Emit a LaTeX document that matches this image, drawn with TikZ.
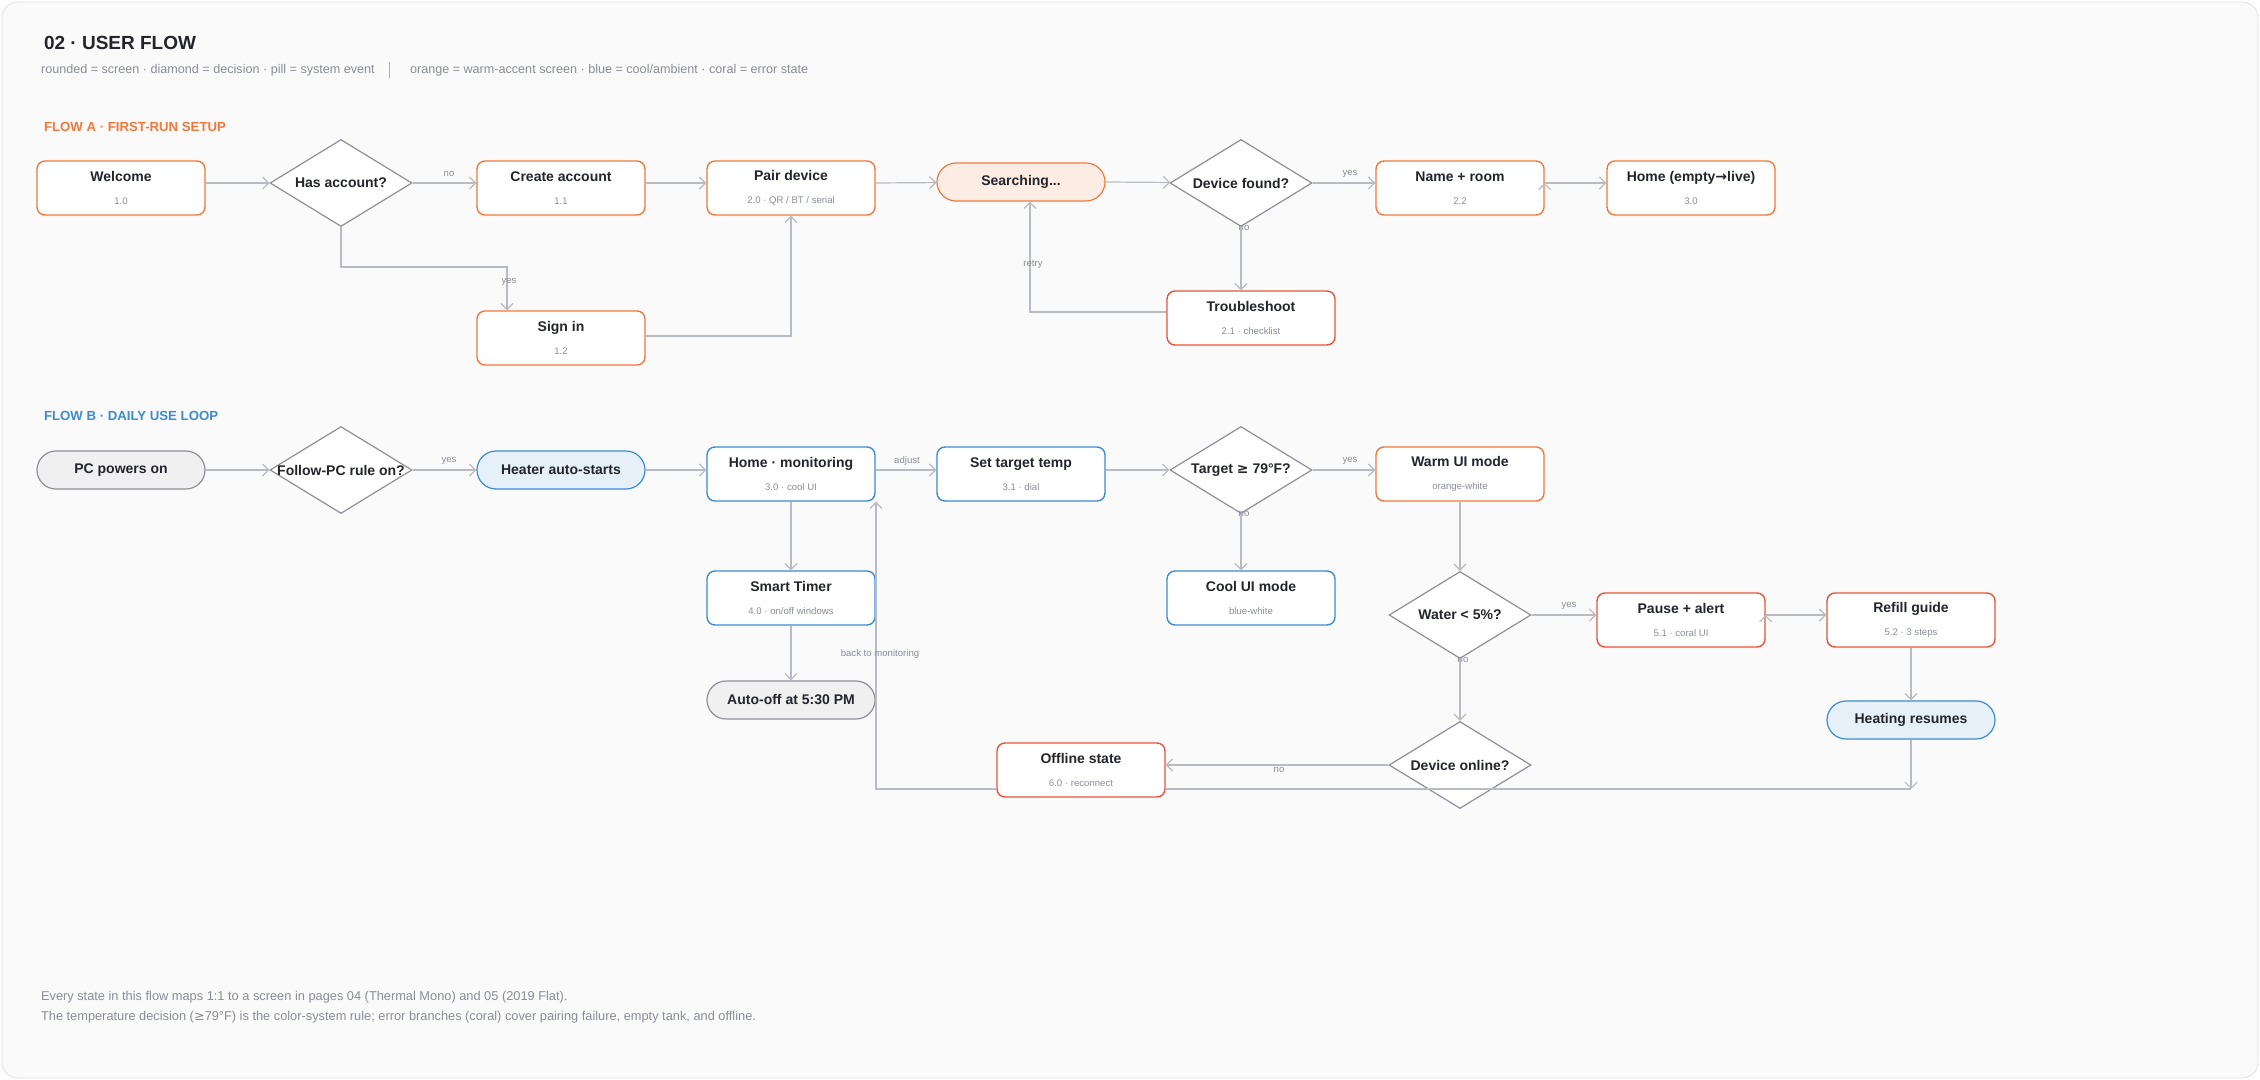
\documentclass[tikz,border=0pt]{standalone}
\usepackage{fontspec}
\setmainfont{Liberation Sans}
\newfontfamily\sym{DejaVu Sans}
\usetikzlibrary{shapes.geometric,arrows.meta}
\definecolor{warm}{HTML}{F07A3C}
\definecolor{coral}{HTML}{E5533D}
\definecolor{cool}{HTML}{3C8CD0}
\definecolor{dia}{HTML}{8E9099}
\definecolor{wire}{HTML}{B9BBC3}
\definecolor{note}{HTML}{8A8D96}
\definecolor{ink}{HTML}{23252B}
\newcommand{\ttl}{\fontsize{7}{8}\selectfont\bfseries\color{ink}}
\newcommand{\sbt}{\fontsize{4.8}{6}\selectfont\color{note}}
\newcommand{\scr}[2]{{\ttl #1}\\[-0.5pt]{\sbt #2}}
\tikzset{
  box/.style={draw=warm,fill=white,rounded corners=4pt,line width=.7pt,minimum width=84pt,minimum height=27pt,align=center,inner sep=1pt},
  pill/.style={draw=dia,fill=gray!12,rounded corners=9.5pt,line width=.6pt,minimum width=84pt,minimum height=19pt,font=\ttl},
  dec/.style={diamond,draw=dia,fill=white,line width=.6pt,minimum width=71pt,minimum height=43.5pt,inner sep=0pt,label={[font=\ttl]center:#1}},
  arr/.style={draw=wire,line width=.6pt,-{Straight Barb[length=3pt,width=6pt]}},
  lbl/.style={font=\fontsize{4.8}{6}\selectfont,text=note},
  note/.style={anchor=west,font=\fontsize{#1}{8}\selectfont,text=note},
}
\begin{document}
\begin{tikzpicture}[x=0.5pt,y=-0.5pt]
  \useasboundingbox (0,0) rectangle (2260,1080);
  \draw[draw=gray!25,fill=gray!4,rounded corners=8pt] (2,2) rectangle (2258,1078);

  % header
  \draw (37,43) node[anchor=west,font=\fontsize{9.5}{10}\selectfont\bfseries,text=ink] {02 · USER FLOW};
  \draw (34,70) node[note=6.3] {rounded = screen · diamond = decision · pill = system event};
  \draw[note!70,line width=.4pt] (389,62) -- (389,78);
  \draw (403,70) node[note=6.3] {orange = warm-accent screen · blue = cool/ambient · coral = error state};

  % flow A
  \draw (37,127) node[anchor=west,font=\fontsize{6.6}{7}\selectfont\bfseries,text=warm] {FLOW A · FIRST-RUN SETUP};
  \node (welcome) at (121,188) [box] {\scr{Welcome}{1.0}};
  \node (hasacc) at (341,183) [dec=Has account?] {};
  \node (create) at (561,188) [box] {\scr{Create account}{1.1}};
  \node (pair) at (791,188) [box] {\scr{Pair device}{2.0 · QR / BT / serial}};
  \node (search) at (1021,182) [pill,draw=warm,fill=warm!14] {Searching...};
  \node (found) at (1241,183) [dec=Device found?] {};
  \node (name) at (1460,188) [box] {\scr{Name + room}{2.2}};
  \node (home) at (1691,188) [box] {\scr{Home (empty{\sym →}live)}{3.0}};
  \node (signin) at (561,338) [box] {\scr{Sign in}{1.2}};
  \node (trouble) at (1251,318) [box,draw=coral] {\scr{Troubleshoot}{2.1 · checklist}};
  \coordinate (retry) at (1030,312);

  \path[arr] (welcome.east |- hasacc) edge (hasacc) (hasacc) edge (create.west |- hasacc)
    (create.east |- hasacc) edge (pair.west |- hasacc) (pair.east |- hasacc) edge (search)
    (search.east) edge (found) (found) edge (name.west |- found) (name.east |- found) edge (home.west |- found)
    (found) edge (trouble.north -| found);
  \draw[arr] (hasacc.south) |- (507,267) -- (signin.north -| 507,0);
  \draw[arr] (signin.east |- 0,336) -| (pair.south);
  \draw[arr] (trouble.west |- retry) -- (retry) -- (search.south -| retry);
  \draw (449,174) node[lbl] {no};
  \draw (509,282) node[lbl] {yes};
  \draw (1350,174) node[lbl] {yes};
  \draw (1244,228) node[lbl] {no};
  \draw (1033,264) node[lbl] {retry};

  % flow B
  \draw (37,416) node[anchor=west,font=\fontsize{6.6}{7}\selectfont\bfseries,text=cool] {FLOW B · DAILY USE LOOP};
  \node (pcon) at (121,470) [pill] {PC powers on};
  \node (follow) at (341,470) [dec=Follow-PC rule on?] {};
  \node (autost) at (561,470) [pill,draw=cool,fill=cool!13] {Heater auto-starts};
  \node (monitor) at (791,474) [box,draw=cool] {\scr{Home · monitoring}{3.0 · cool UI}};
  \node (settemp) at (1021,474) [box,draw=cool] {\scr{Set target temp}{3.1 · dial}};
  \node (target) at (1241,470) [dec={Target {\sym ≥} 79°F?}] {};
  \node (warm) at (1460,474) [box] {\scr{Warm UI mode}{orange-white}};
  \node (coolui) at (1251,598) [box,draw=cool] {\scr{Cool UI mode}{blue-white}};
  \node (timer) at (791,598) [box,draw=cool] {\scr{Smart Timer}{4.0 · on/off windows}};
  \node (autooff) at (791,700) [pill] {Auto-off at 5:30 PM};
  \node (water) at (1460,615) [dec={Water < 5\%?}] {};
  \node (pause) at (1681,620) [box,draw=coral] {\scr{Pause + alert}{5.1 · coral UI}};
  \node (refill) at (1911,620) [box,draw=coral] {\scr{Refill guide}{5.2 · 3 steps}};
  \node (resume) at (1911,720) [pill,draw=cool,fill=cool!13] {Heating resumes};
  \node (online) at (1460,765) [dec=Device online?] {};
  \node (offline) at (1081,770) [box,draw=coral] {\scr{Offline state}{6.0 · reconnect}};
  \coordinate (loop) at (1911,789);
  \coordinate (back) at (876,789);

  \path[arr] (pcon) edge (follow) (follow) edge (autost) (autost) edge (monitor.west |- autost)
    (monitor.east |- 0,470) edge (settemp.west |- 0,470) (settemp.east |- 0,470) edge (target)
    (target) edge (warm.west |- target) (target) edge (coolui.north -| target) (monitor) edge (timer)
    (timer) edge (autooff) (warm) edge (water) (water.east) edge (pause.west |- water)
    (pause.east |- water) edge (refill.west |- water) (refill) edge (resume) (water) edge (online)
    (online) edge (offline.east |- online) (resume) edge (loop);
  \draw[draw=wire,line width=.6pt] (loop) -- (offline.east |- loop);
  \draw[arr] (offline.west |- back) -- (back) -- (monitor.south east -| back);
  \draw (449,461) node[lbl] {yes};
  \draw (907,461) node[lbl] {adjust};
  \draw (1350,461) node[lbl] {yes};
  \draw (1244,514) node[lbl] {no};
  \draw (1569,606) node[lbl] {yes};
  \draw (1463,660) node[lbl] {no};
  \draw (1279,770) node[lbl] {no};
  \draw (880,654) node[lbl] {back to monitoring};

  % footer
  \draw (34,997) node[note=6.4] {Every state in this flow maps 1:1 to a screen in pages 04 (Thermal Mono) and 05 (2019 Flat).};
  \draw (34,1017) node[note=6.4] {The temperature decision ({\sym ≥}79°F) is the color-system rule; error branches (coral) cover pairing failure, empty tank, and offline.};
\end{tikzpicture}
\end{document}
